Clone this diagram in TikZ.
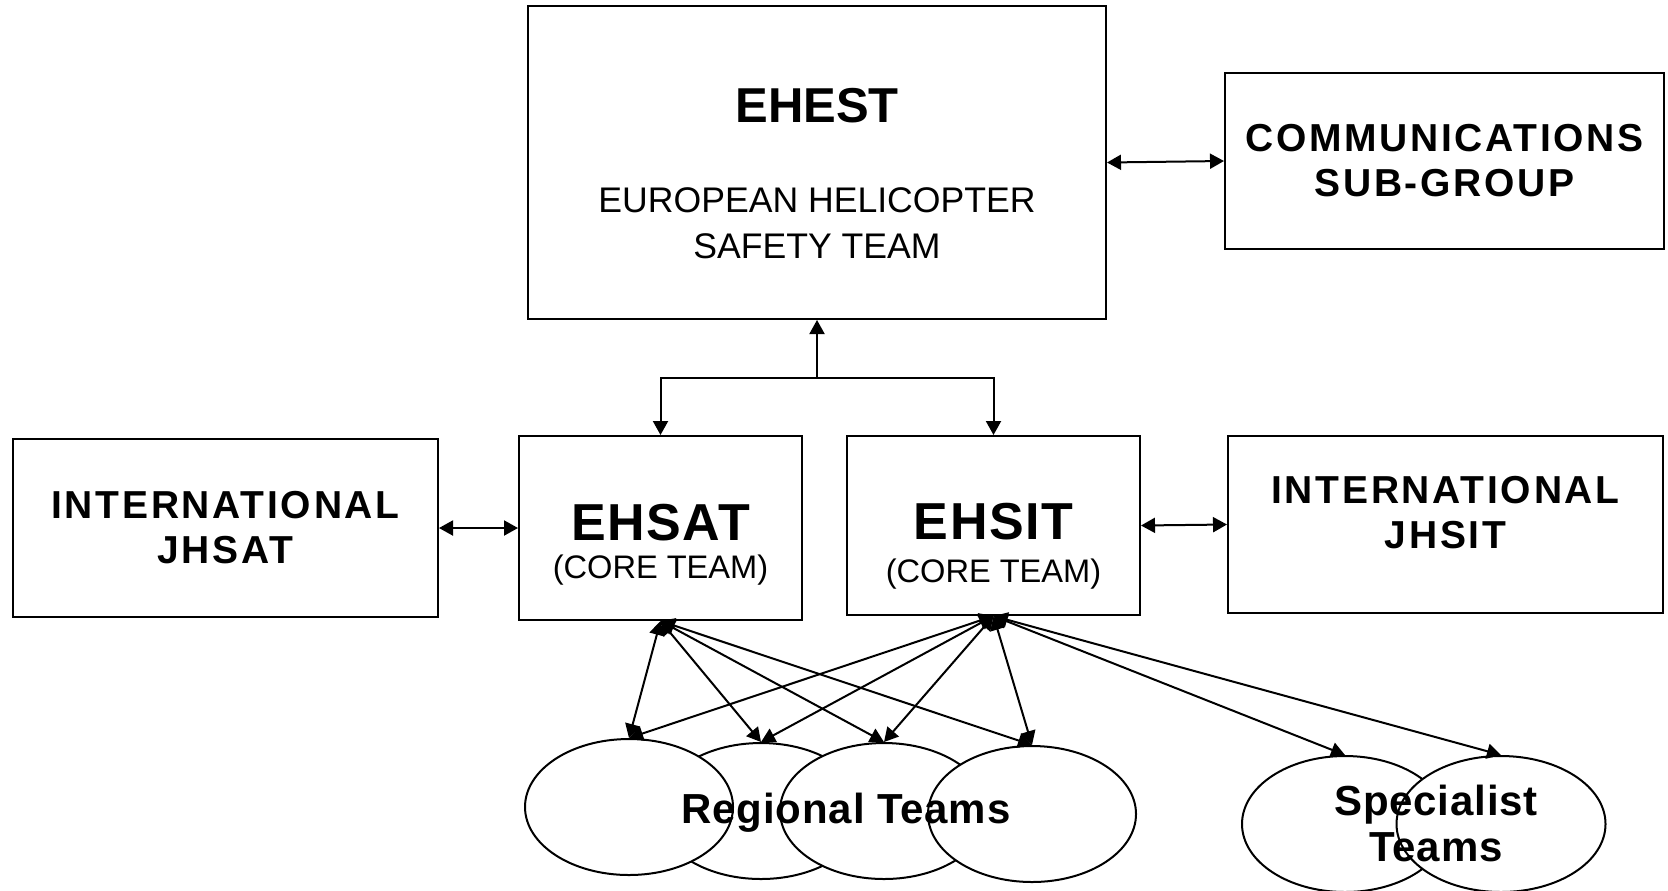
\documentclass[tikz,border=0pt]{standalone}
\usepackage{fontspec}
\setmainfont{Liberation Sans}
\usetikzlibrary{arrows.meta,shapes.geometric}

\begin{document}
\begin{tikzpicture}[
  x=0.5pt, y=-0.5pt,
  line width=1pt,
  >={Triangle[length=7pt,width=7.5pt]},
  box/.style={draw, line width=1pt, inner sep=0pt, align=center},
  team/.style={draw, ellipse, fill=white, inner sep=0pt, minimum width=104pt, minimum height=68pt},
  arrow/.style={<->},
  titlefont/.style={font=\bfseries\fontsize{24.5}{28}\selectfont},
  corefont/.style={font=\bfseries\fontsize{26}{30}\selectfont\addfontfeature{LetterSpace=3}},
  plainfont/.style={font=\fontsize{17.8}{23}\selectfont, align=center},
  subfont/.style={font=\fontsize{16.3}{20}\selectfont},
  groupfont/.style={font=\bfseries\fontsize{19.5}{22.5}\selectfont\addfontfeature{LetterSpace=7}, align=center},
  teamfont/.style={font=\bfseries\fontsize{21}{23}\selectfont\addfontfeature{LetterSpace=2}, align=center}
]
\path[use as bounding box, fill=white] (0,0) rectangle (1668,890);

% top level
\node[box, minimum width=289pt, minimum height=156.5pt] (ehest) at (817,162.5) {};
\node[titlefont] (ehest-name) at (817,106) {EHEST};
\node[plainfont] (ehest-full) at (817,223) {EUROPEAN HELICOPTER\\SAFETY TEAM};
\node[box, groupfont, minimum width=219.5pt, minimum height=88pt] (comm) at (1444.5,161) {COMMUNICATIONS\\SUB-GROUP};
\draw[arrow] (ehest.east) -- (comm.west);

% core teams
\node[box, minimum width=141.5pt, minimum height=92pt] (ehsat) at (660.5,528) {};
\node[corefont] (ehsat-name) at (660.5,523) {EHSAT};
\node[subfont] (ehsat-core) at (660.5,570) {(CORE TEAM)};
\node[box, minimum width=146.5pt, minimum height=89.5pt] (ehsit) at (993.5,525.5) {};
\node[corefont] (ehsit-name) at (993.5,522) {EHSIT};
\node[subfont] (ehsit-core) at (993.5,574) {(CORE TEAM)};

\coordinate (split) at (817,378);
\draw[->] (split) -- (ehest);
\draw[->] (split) -| (ehsat);
\draw[->] (split) -| (ehsit);

% international
\node[box, groupfont, minimum width=212.5pt, minimum height=89pt] (jhsat) at (225.5,528) {INTERNATIONAL\\JHSAT};
\node[box, minimum width=217.5pt, minimum height=88.5pt] (jhsit) at (1445.5,524.5) {};
\node[groupfont] (jhsit-name) at (1445.5,513) {INTERNATIONAL\\JHSIT};
\draw[arrow] (jhsat.east) -- (ehsat.west);
\draw[arrow] (ehsit.east) -- (jhsit.west);

% regional and specialist teams
\node[team] (r2) at (761,811) {};
\node[team] (r1) at (629,807) {};
\node[team] (r3) at (884,811) {};
\node[team] (r4) at (1032,814) {};
\node[teamfont] (regional) at (846,813) {Regional Teams};
\node[team, minimum width=103pt] (s1) at (1345,824) {};
\node[team, minimum width=104.5pt] (s2) at (1501,824) {};
\node[teamfont] (specialist) at (1436,823) {Specialist\\Teams};

\draw[arrow] (ehsat.south) -- (r1.north);
\draw[arrow] (ehsat.south) -- (r2.north);
\draw[arrow] (ehsat.south) -- (r3.north);
\draw[arrow] (ehsat.south) -- (r4.north);
\draw[arrow] (ehsit.south) -- (r1.north);
\draw[arrow] (ehsit.south) -- (r2.north);
\draw[arrow] (ehsit.south) -- (r3.north);
\draw[arrow] (ehsit.south) -- (r4.north);
\draw[arrow] (ehsit.south) -- (s1.north);
\draw[arrow] (ehsit.south) -- (s2.north);
\end{tikzpicture}
\end{document}
